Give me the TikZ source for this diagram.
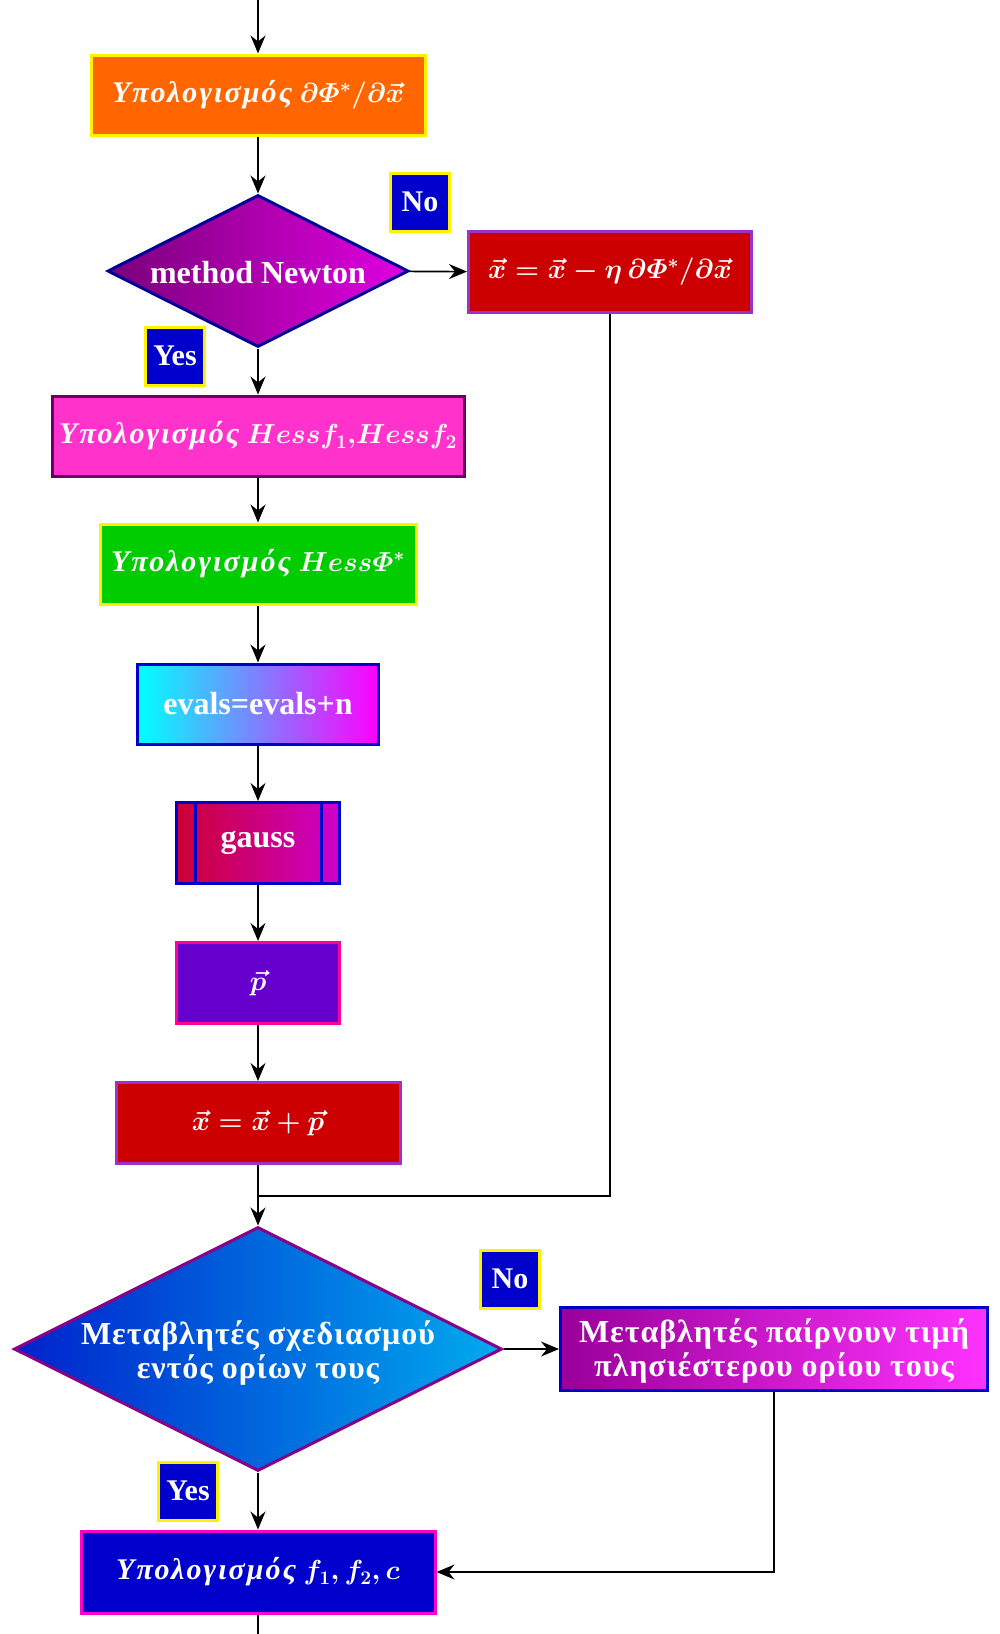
\RequirePackage{fix-cm}
\documentclass[tikz,border=0pt]{standalone}
\usepackage{amsmath}
\usepackage{fontspec}
\setmainfont{Liberation Serif}
\newfontfamily\gkup[LetterSpace=3]{Liberation Serif}
\newfontfamily\gkit[LetterSpace=7]{Liberation Serif}
\usetikzlibrary{shapes.geometric, arrows.meta}

\definecolor{orangeA}{HTML}{FF6600}
\definecolor{redA}{HTML}{CC0000}
\definecolor{pinkA}{HTML}{FF33CC}
\definecolor{greenA}{HTML}{00CC00}
\definecolor{blueA}{HTML}{0000CC}
\definecolor{violetA}{HTML}{6600CC}
\definecolor{lilacEdge}{HTML}{9933CC}
\definecolor{plumEdge}{HTML}{660066}
\definecolor{roseEdge}{HTML}{FF0099}
\definecolor{magEdge}{HTML}{FF00CC}
\definecolor{navyEdge}{HTML}{000099}
\definecolor{purpEdge}{HTML}{880088}
\definecolor{plumL}{HTML}{7A007A}
\definecolor{plumR}{HTML}{E000E0}
\definecolor{skyL}{HTML}{0022CC}
\definecolor{skyR}{HTML}{00AAEE}
\definecolor{cyanL}{HTML}{00FFFF}
\definecolor{fuchR}{HTML}{FF00FF}
\definecolor{crimL}{HTML}{CC0033}
\definecolor{crimR}{HTML}{CC00CC}
\definecolor{orchL}{HTML}{990099}
\definecolor{orchR}{HTML}{FF33FF}

% italic Greek words and the formulas that follow them
\newcommand\gkital[1]{{\gkit\bfseries\itshape #1}}
\newcommand\mth[1]{{\fontsize{27.5}{32}\selectfont$#1$}}

\begin{document}
\begin{tikzpicture}[x=1pt,y=-1pt,
  base/.style={rectangle, line width=3pt, text=white, inner sep=0pt,
    font=\fontsize{32}{38}\selectfont\bfseries\boldmath},
  mathbox/.style={base, font=\fontsize{30}{36}\selectfont\bfseries\boldmath},
  flag/.style={base, fill=blueA, draw=yellow, minimum width=59, minimum height=58,
    font=\fontsize{30}{36}\selectfont\bfseries},
  decision/.style={diamond, line width=3pt, inner sep=0pt},
  lbl/.style={text=white, inner sep=0pt, align=center,
    font=\fontsize{32}{34}\selectfont\bfseries},
  flow/.style={line width=1.6pt, -{Stealth[length=18pt,width=15pt,inset=6pt]}},
  link/.style={line width=1.6pt},
]
\useasboundingbox (0,0) rectangle (1000,1634);

% column of steps
\coordinate (entry) at (258,0);
\node[mathbox, fill=orangeA, draw=yellow, minimum width=334, minimum height=80]
  (grad) at (258,95) {\gkital{Υπολογισμός} \mth{\partial\varPhi^*/\partial\vec{x}}};

\node[decision, draw=navyEdge, left color=plumL, right color=plumR,
  minimum width=301, minimum height=152] (newton) at (258,271) {};
\node[lbl] (newtontxt) at ([yshift=-2pt]newton.center) {method Newton};

\node[mathbox, fill=redA, draw=lilacEdge, minimum width=283, minimum height=81]
  (descent) at (610,272) {\mth{\vec{x}=\vec{x}-\eta\,\partial\varPhi^*/\partial\vec{x}}};

\node[mathbox, fill=pinkA, draw=plumEdge, minimum width=412, minimum height=80]
  (hessf) at (258,436) {\gkital{Υπολογισμός} \mth{Hessf_1{,}Hessf_2}};

\node[mathbox, fill=greenA, draw=yellow, minimum width=316, minimum height=80]
  (hessphi) at (258,564) {\gkital{Υπολογισμός} \mth{Hess\varPhi^*}};

\node[base, draw=blueA, left color=cyanL, right color=fuchR,
  minimum width=241, minimum height=80] (evals) at (258,704) {evals=evals+n};

\node[base, draw=blueA, left color=crimL, right color=crimR,
  minimum width=163, minimum height=81] (gauss) at (258,843) {gauss};
\draw[blueA, line width=3pt]
  ([xshift=20pt]gauss.north west) -- ([xshift=20pt]gauss.south west)
  ([xshift=-20pt]gauss.north east) -- ([xshift=-20pt]gauss.south east);

\node[mathbox, fill=violetA, draw=roseEdge, minimum width=163, minimum height=81]
  (pvec) at (258,983) {\mth{\vec{p}}};

\node[mathbox, fill=redA, draw=lilacEdge, minimum width=284, minimum height=81]
  (update) at (258,1123) {\mth{\vec{x}=\vec{x}+\vec{p}}};

\coordinate (join) at (258,1196);

\node[decision, draw=purpEdge, left color=skyL, right color=skyR,
  minimum width=488, minimum height=244] (bounds) at (258,1349) {};
\node[lbl] (boundstxt) at ([yshift=-4pt]bounds.center)
  {\gkup Μεταβλητές σχεδιασμού\\ \gkup εντός ορίων τους};

\node[base, draw=blueA, left color=orchL, right color=orchR,
  minimum width=427, minimum height=83] (clamp) at (774,1349) {};
\node[lbl] (clamptxt) at ([yshift=-2pt]clamp.center)
  {\gkup Μεταβλητές παίρνουν τιμή\\ \gkup πλησιέστερου ορίου τους};

\node[mathbox, fill=blueA, draw=magEdge, minimum width=354, minimum height=82]
  (result) at (258,1572) {\gkital{Υπολογισμός} \mth{f_1,f_2,c}};
\coordinate (exit) at (258,1634);

% branch flags
\node[flag] (no1) at (420,202) {No};
\node[flag] (yes1) at (175,356) {Yes};
\node[flag] (no2) at (510,1279) {No};
\node[flag] (yes2) at (188,1491) {Yes};

% connectors
\draw[flow] (entry) -- (grad);
\draw[flow] (grad) -- (newton);
\draw[flow] (newton) -- (descent);
\draw[flow] (newton) -- (hessf);
\draw[flow] (hessf) -- (hessphi);
\draw[flow] (hessphi) -- (evals);
\draw[flow] (evals) -- (gauss);
\draw[flow] (gauss) -- (pvec);
\draw[flow] (pvec) -- (update);
\draw[flow] (update) -- (bounds);
\draw[link] (descent.south) |- (join);
\draw[flow] (bounds) -- (clamp);
\draw[flow] (bounds) -- (result);
\draw[flow] (clamp.south) |- (result.east);
\draw[link] (result) -- (exit);
\end{tikzpicture}
\end{document}
